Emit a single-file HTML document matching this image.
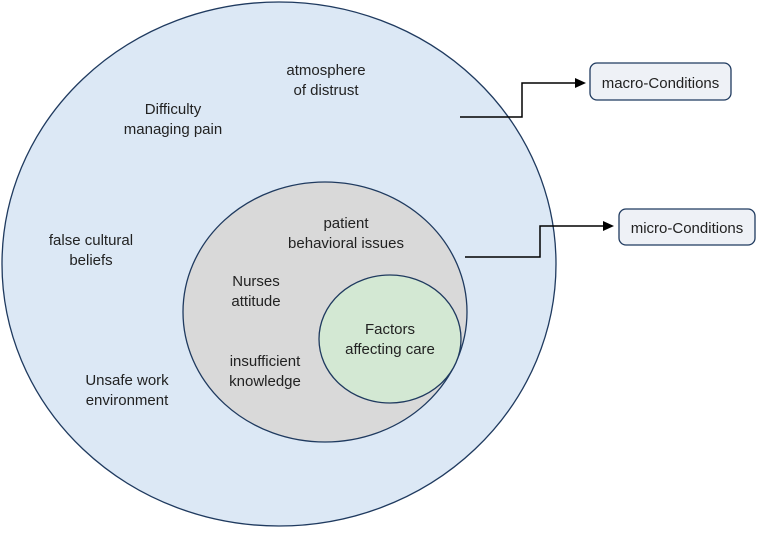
<!DOCTYPE html>
<html><head><style>body{margin:0;background:#fff}</style></head><body>
<svg width="757" height="528" xmlns="http://www.w3.org/2000/svg" font-family="Liberation Sans, sans-serif" font-size="15" fill="#222">
<ellipse cx="279" cy="264" rx="277" ry="262" fill="#dce8f5" stroke="#1f3a5f" stroke-width="1.3"/>
<ellipse cx="325" cy="312" rx="142" ry="130" fill="#d9d9d9" stroke="#1f3a5f" stroke-width="1.3"/>
<ellipse cx="390" cy="339" rx="71" ry="64" fill="#d3e8d3" stroke="#1f3a5f" stroke-width="1.3"/>
<g text-anchor="middle">
<text x="326" y="75">atmosphere</text><text x="326" y="95">of distrust</text>
<text x="173" y="114">Difficulty</text><text x="173" y="134">managing pain</text>
<text x="91" y="245">false cultural</text><text x="91" y="265">beliefs</text>
<text x="127" y="385">Unsafe work</text><text x="127" y="405">environment</text>
<text x="346" y="228">patient</text><text x="346" y="248">behavioral issues</text>
<text x="256" y="286">Nurses</text><text x="256" y="306">attitude</text>
<text x="265" y="366">insufficient</text><text x="265" y="386">knowledge</text>
<text x="390" y="334">Factors</text><text x="390" y="354">affecting care</text>
</g>
<polyline points="460,117 522,117 522,83 578,83" fill="none" stroke="#000" stroke-width="1.5"/>
<polygon points="586,83 575,78 575,88" fill="#000"/>
<polyline points="465,257 540,257 540,226 606,226" fill="none" stroke="#000" stroke-width="1.5"/>
<polygon points="614,226 603,221 603,231" fill="#000"/>
<rect x="590" y="63" width="141" height="37" rx="7" fill="#eef1f6" stroke="#1f3a5f" stroke-width="1.3"/>
<text x="660.5" y="88" text-anchor="middle">macro-Conditions</text>
<rect x="619" y="209" width="136" height="36" rx="7" fill="#eef1f6" stroke="#1f3a5f" stroke-width="1.3"/>
<text x="687" y="233" text-anchor="middle">micro-Conditions</text>
</svg>
</body></html>
